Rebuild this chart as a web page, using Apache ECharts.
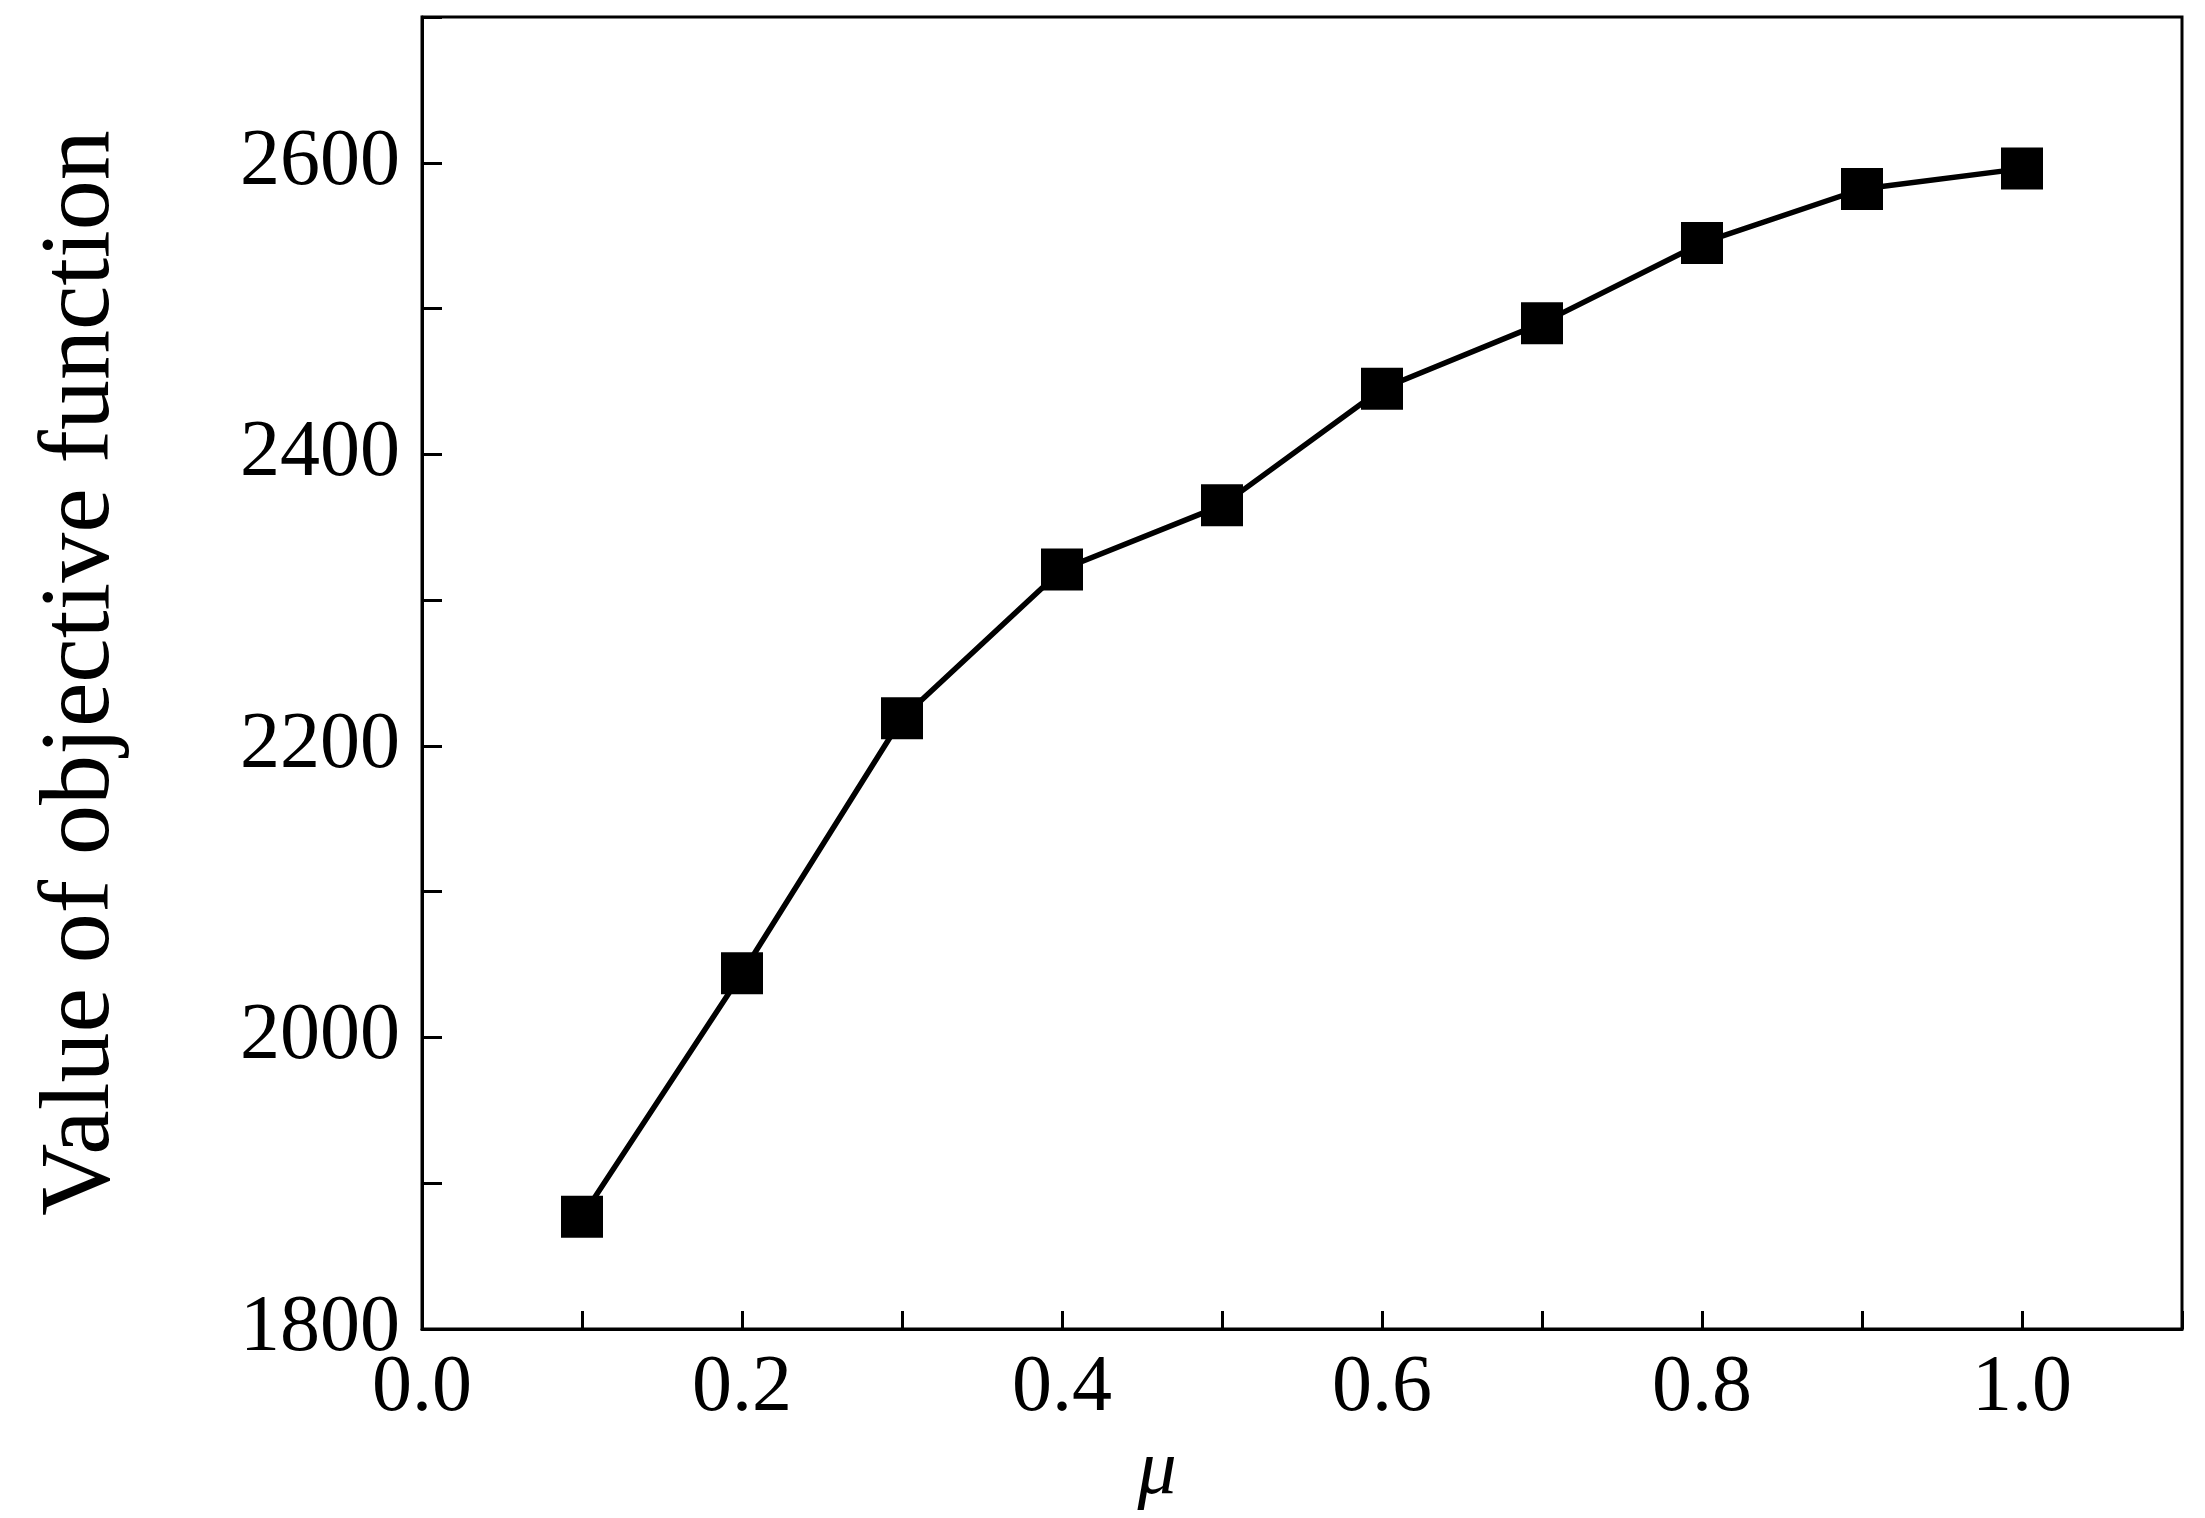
<!DOCTYPE html>
<html>
<head>
<meta charset="UTF-8">
<script src="https://cdn.jsdelivr.net/npm/echarts@6/dist/echarts.min.js"></script>
</head>
<body style="margin:0;background:#fff">
<div id="container" style="width:2205px;height:1518px"></div>
<script>
var muValues = [0.1, 0.2, 0.3, 0.4, 0.5, 0.6, 0.7, 0.8, 0.9, 1.0];
var objectiveValues = [1877, 2044, 2219, 2321, 2365, 2445, 2490, 2545, 2582, 2596];

var chart = echarts.init(document.getElementById('container'));
var font = '"Liberation Serif", "Times New Roman", Times, serif';
var data = [];
for (var i = 0; i < muValues.length; i++) data.push([muValues[i], objectiveValues[i]]);

chart.setOption({
    animation: false,
    grid: {left: 422, right: 23, top: 17, bottom: 189, show: true, borderColor: '#000', borderWidth: 3},
    xAxis: {
        type: 'value', min: 0, max: 1.1, interval: 0.2,
        name: 'μ', nameLocation: 'middle', nameGap: 80,
        nameTextStyle: {fontFamily: font, fontStyle: 'italic', fontSize: 78, color: '#000', padding: [0, 290, 0, 0]},
        axisLine: {lineStyle: {color: '#000', width: 3}},
        axisTick: {inside: true, length: 18, lineStyle: {color: '#000', width: 3}},
        minorTick: {show: true, splitNumber: 2, length: 18, lineStyle: {color: '#000', width: 3}},
        splitLine: {show: false},
        axisLabel: {fontFamily: font, fontSize: 80, color: '#000', margin: 20,
            formatter: function (v) { return v > 1.05 ? '' : v.toFixed(1); }}
    },
    yAxis: {
        type: 'value', min: 1800, max: 2700, interval: 200,
        name: 'Value of objective function', nameLocation: 'middle', nameGap: 290,
        nameTextStyle: {fontFamily: font, fontSize: 100, color: '#000'},
        axisLine: {lineStyle: {color: '#000', width: 3}},
        axisTick: {inside: true, length: 20, lineStyle: {color: '#000', width: 3}},
        minorTick: {show: true, splitNumber: 2, length: 20, lineStyle: {color: '#000', width: 3}},
        splitLine: {show: false},
        axisLabel: {fontFamily: font, fontSize: 80, color: '#000', margin: 22,
            formatter: function (v) { return v > 2650 ? '' : String(v); }}
    },
    series: [{
        type: 'line', data: data,
        symbol: 'rect', symbolSize: 42,
        lineStyle: {color: '#000', width: 5.5},
        itemStyle: {color: '#000'}
    }]
});
</script>
</body>
</html>
